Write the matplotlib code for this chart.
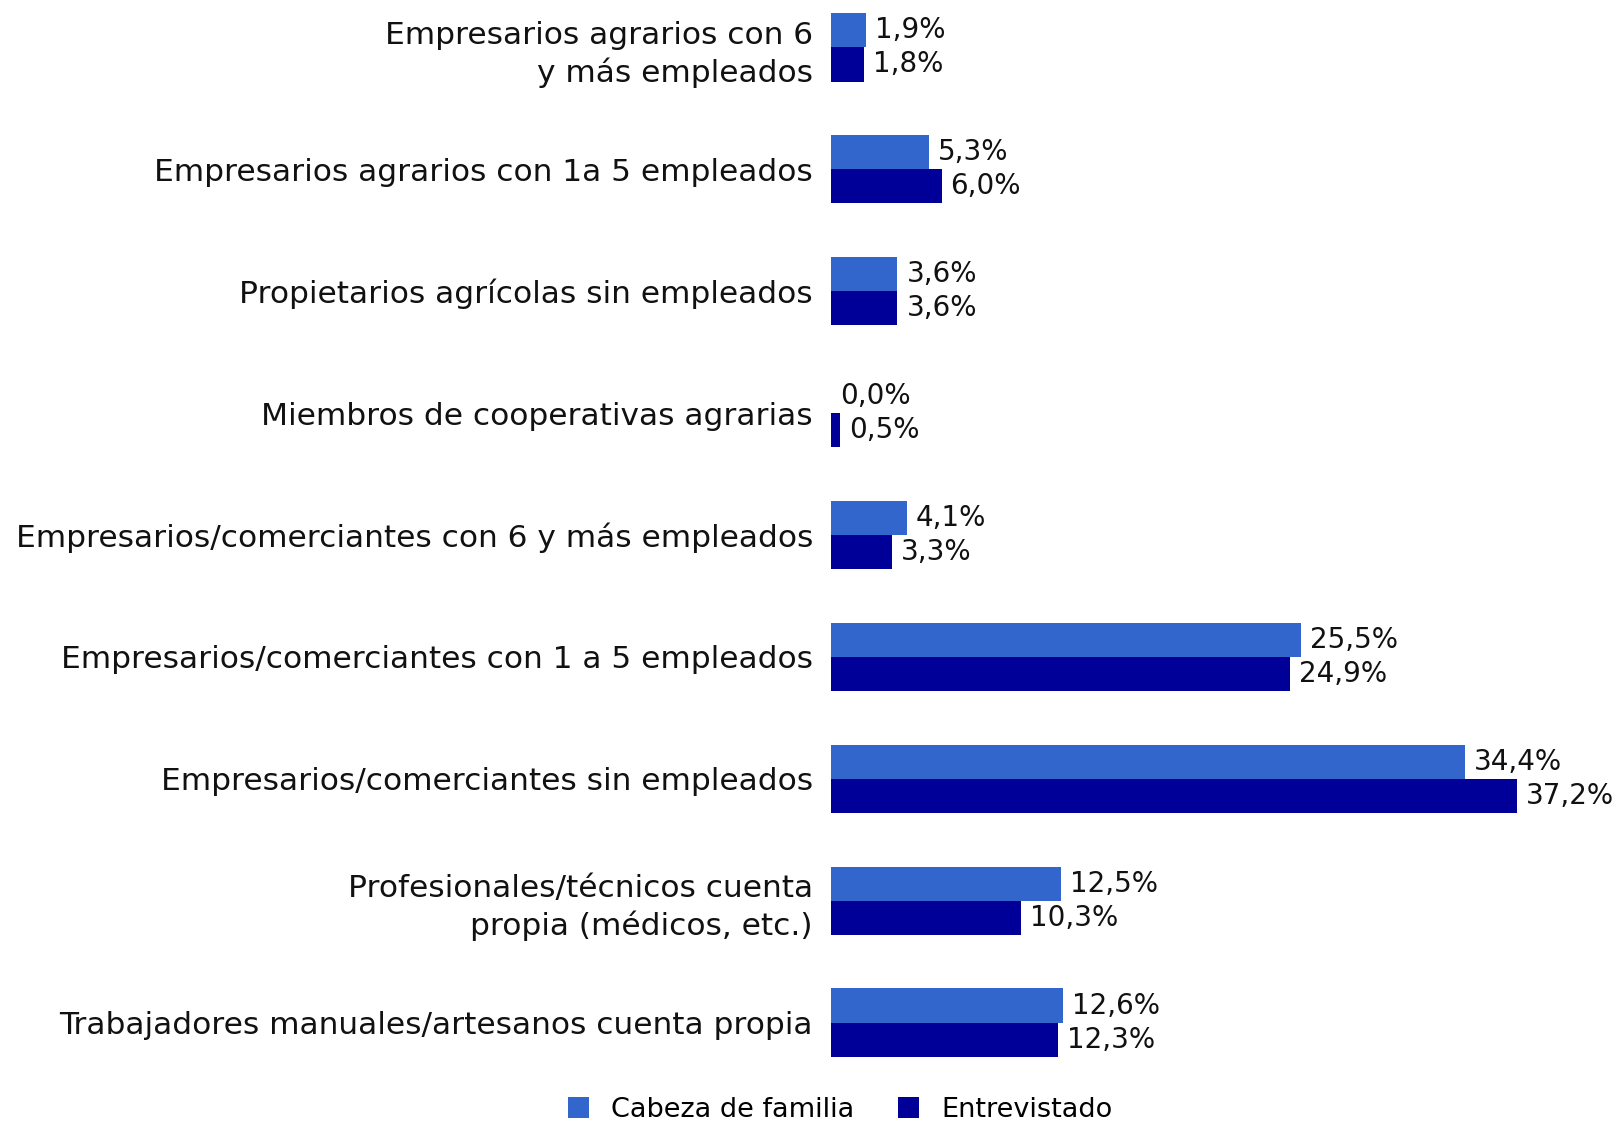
import matplotlib
matplotlib.use('Agg')
import matplotlib.pyplot as plt
import numpy as np

categorias = ['Empresarios agrarios con 6\ny más empleados',
              'Empresarios agrarios con 1a 5 empleados',
              'Propietarios agrícolas sin empleados',
              'Miembros de cooperativas agrarias',
              'Empresarios/comerciantes con 6 y más empleados',
              'Empresarios/comerciantes con 1 a 5 empleados',
              'Empresarios/comerciantes sin empleados',
              'Profesionales/técnicos cuenta\npropia (médicos, etc.)',
              'Trabajadores manuales/artesanos cuenta propia']
cabeza = [1.9, 5.3, 3.6, 0.0, 4.1, 25.5, 34.4, 12.5, 12.6]
entrevistado = [1.8, 6.0, 3.6, 0.5, 3.3, 24.9, 37.2, 10.3, 12.3]
series = ['Cabeza de familia', 'Entrevistado']

c_claro = '#3366CC'
c_oscuro = '#000099'

plt.rcParams['font.family'] = ['DejaVu Sans']
fig = plt.figure(figsize=(16.16, 11.21), dpi=100)
ax = fig.add_axes([831/1616, 51/1121, 1 - 831/1616, 1070/1121])

y = np.arange(len(categorias))
h = 0.28
b1 = ax.barh(y - h/2, cabeza, height=h, color=c_claro, label=series[0])
b2 = ax.barh(y + h/2, entrevistado, height=h, color=c_oscuro, label=series[1])

# etiquetas de valor con coma decimal
for barras, vals in [(b1, cabeza), (b2, entrevistado)]:
    for b, v in zip(barras, vals):
        ax.annotate(('%.1f%%' % v).replace('.', ','),
                    (b.get_width(), b.get_y() + b.get_height()/2),
                    xytext=(6.5, 0), textcoords='offset points',
                    ha='left', va='center', fontsize=20, color='#111111')

ax.set_xlim(0, (1616 - 831) / 18.43)
ax.set_ylim(8.389, -0.389)
ax.set_yticks(y)
ax.set_yticklabels(categorias, fontsize=22.5, color='#111111', linespacing=1.3)
ax.tick_params(axis='y', length=0, pad=13)
ax.set_xticks([])
for s in ax.spines.values():
    s.set_visible(False)

fig.legend(handles=[b1, b2], labels=series, loc='center',
           bbox_to_anchor=(840/1616, 1 - 1110/1121), ncol=2, frameon=False,
           fontsize=19.5, handlelength=0.8, handleheight=0.8, columnspacing=1.6)

fig.savefig('out.png', dpi=100)
